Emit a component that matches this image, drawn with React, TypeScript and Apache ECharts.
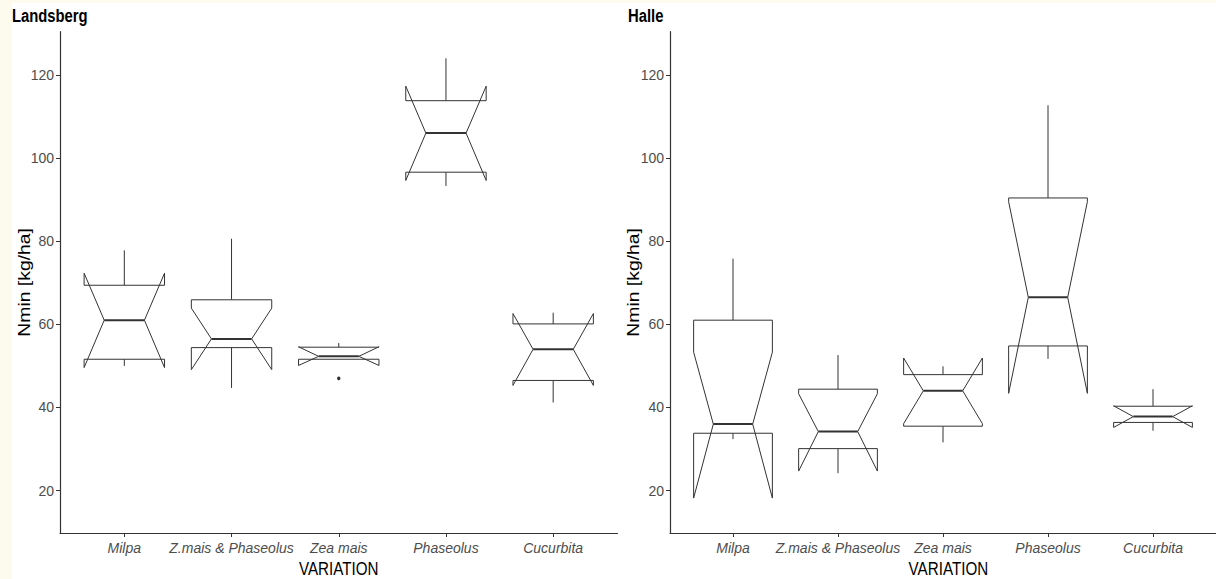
import React, { useEffect, useRef } from "react";
import * as echarts from "echarts";

const categories = ["Milpa", "Z.mais & Phaseolus", "Zea mais", "Phaseolus", "Cucurbita"];
const yTicks = [20, 40, 60, 80, 100, 120];
const panelTitles = ["Landsberg", "Halle"];
const xTitle = "VARIATION";
const yTitle = "Nmin [kg/ha]";

// [lowWhisker, q1, notchLow, median, notchHigh, q3, highWhisker]
const landsberg = [
  [50.0, 51.6, 49.6, 61.0, 72.3, 69.4, 77.8],
  [44.7, 54.4, 49.1, 56.5, 63.9, 65.9, 80.6],
  [51.6, 51.6, 50.1, 52.3, 54.6, 54.5, 55.5],
  [93.3, 96.6, 94.6, 106.0, 117.3, 113.8, 124.0],
  [41.2, 46.5, 45.3, 54.0, 62.6, 60.1, 62.8],
];
const landsbergOutliers = [[3, 47.0]];

const halle = [
  [32.4, 33.8, 18.2, 36.0, 53.3, 61.0, 75.8],
  [24.2, 30.1, 24.7, 34.2, 43.3, 44.4, 52.6],
  [31.6, 35.5, 36.1, 44.0, 51.9, 47.9, 49.9],
  [51.7, 54.8, 43.4, 66.5, 89.5, 90.4, 112.7],
  [34.4, 36.4, 35.2, 37.8, 40.4, 40.3, 44.4],
];

const SANS = "'Liberation Sans', Arial, sans-serif";
const LINE = "#333333";

function renderBox(params: any, api: any) {
  const x = api.value(0);
  const lo = api.value(1), q1 = api.value(2), nlo = api.value(3), med = api.value(4);
  const nhi = api.value(5), q3 = api.value(6), hi = api.value(7);
  const cx = api.coord([x, med])[0];
  const w = api.size([0.75, 0])[0];
  const xmin = cx - w / 2, xmax = cx + w / 2, ind = w * 0.25;
  const Y = (v: number) => api.coord([x, v])[1];
  const pts = [
    [xmin, Y(q3)], [xmin, Y(nhi)], [xmin + ind, Y(med)], [xmin, Y(nlo)], [xmin, Y(q1)],
    [xmax, Y(q1)], [xmax, Y(nlo)], [xmax - ind, Y(med)], [xmax, Y(nhi)], [xmax, Y(q3)],
  ];
  const ls = { stroke: LINE, lineWidth: 1 };
  return {
    type: "group",
    children: [
      { type: "line", shape: { x1: cx, y1: Y(q3), x2: cx, y2: Y(hi) }, style: ls },
      { type: "line", shape: { x1: cx, y1: Y(q1), x2: cx, y2: Y(lo) }, style: ls },
      { type: "polygon", shape: { points: pts }, style: { fill: "#ffffff", stroke: LINE, lineWidth: 1 } },
      { type: "line", shape: { x1: xmin + ind, y1: Y(med), x2: xmax - ind, y2: Y(med) }, style: { stroke: LINE, lineWidth: 2 } },
    ],
  };
}

function xAxisFor(gridIndex: number) {
  return {
    type: "value",
    gridIndex,
    min: 0.4,
    max: 5.6,
    axisLine: { show: true, lineStyle: { color: LINE, width: 1.2 } },
    axisTick: { show: true, length: 4, lineStyle: { color: LINE }, customValues: [1, 2, 3, 4, 5] },
    axisLabel: {
      customValues: [1, 2, 3, 4, 5],
      formatter: (v: number) => categories[Math.round(v) - 1] ?? "",
      fontFamily: SANS,
      fontStyle: "italic",
      fontSize: 14,
      color: "#4d4d4d",
      margin: 8,
    },
    splitLine: { show: false },
  };
}

function yAxisFor(gridIndex: number) {
  return {
    type: "value",
    gridIndex,
    min: 9.8,
    max: 130.4,
    axisLine: { show: true, lineStyle: { color: LINE, width: 1.2 } },
    axisTick: { show: true, length: 4, lineStyle: { color: LINE }, customValues: yTicks },
    axisLabel: {
      customValues: yTicks,
      fontFamily: SANS,
      fontSize: 14,
      color: "#4d4d4d",
      margin: 6,
    },
    splitLine: { show: false },
  };
}

function panelTexts(title: string, titleX: number, xCenter: number, yTitleX: number) {
  return [
    { type: "text", x: titleX, y: 6, scaleX: 0.78, style: { text: title, font: `bold 19px ${SANS}`, fill: "#000", align: "left", verticalAlign: "top" } },
    { type: "text", x: xCenter, y: 568, scaleX: 0.8, style: { text: xTitle, font: `19px ${SANS}`, fill: "#000", align: "center", verticalAlign: "middle" } },
    { type: "text", x: yTitleX, y: 282.4, rotation: Math.PI / 2, scaleX: 1.21, style: { text: yTitle, font: `16px ${SANS}`, fill: "#000", align: "center", verticalAlign: "middle" } },
  ];
}

export default function App() {
  const ref = useRef<HTMLDivElement>(null);
  useEffect(() => {
    document.body.style.margin = "0";
    const chart = echarts.init(ref.current!, null, { renderer: "svg" });
    chart.setOption({
      animation: false,
      backgroundColor: "#ffffff",
      grid: [
        { left: 60, top: 31.7, width: 557.5, height: 501.3 },
        { left: 670, top: 31.7, width: 556.7, height: 501.3 },
      ],
      xAxis: [xAxisFor(0), xAxisFor(1)],
      yAxis: [yAxisFor(0), yAxisFor(1)],
      graphic: [
        { type: "rect", x: 0, y: 0, shape: { width: 12, height: 579 }, style: { fill: "#fdfbee" }, silent: true },
        { type: "rect", x: 0, y: 0, shape: { width: 1216, height: 3 }, style: { fill: "#fdfbee" }, silent: true },
        ...panelTexts(panelTitles[0], 12, 338.75, 25),
        ...panelTexts(panelTitles[1], 628, 948.4, 634),
      ],
      series: [
        {
          type: "custom",
          xAxisIndex: 0,
          yAxisIndex: 0,
          renderItem: renderBox,
          data: landsberg.map((d, i) => [i + 1, ...d]),
          encode: { x: 0, y: [1, 7] },
          z: 2,
        },
        {
          type: "scatter",
          xAxisIndex: 0,
          yAxisIndex: 0,
          data: landsbergOutliers,
          symbolSize: 3.5,
          itemStyle: { color: "#000" },
          z: 3,
        },
        {
          type: "custom",
          xAxisIndex: 1,
          yAxisIndex: 1,
          renderItem: renderBox,
          data: halle.map((d, i) => [i + 1, ...d]),
          encode: { x: 0, y: [1, 7] },
          z: 2,
        },
      ],
    });
    return () => chart.dispose();
  }, []);
  return <div ref={ref} style={{ position: "absolute", left: 0, top: 0, width: 1216, height: 579 }} />;
}
